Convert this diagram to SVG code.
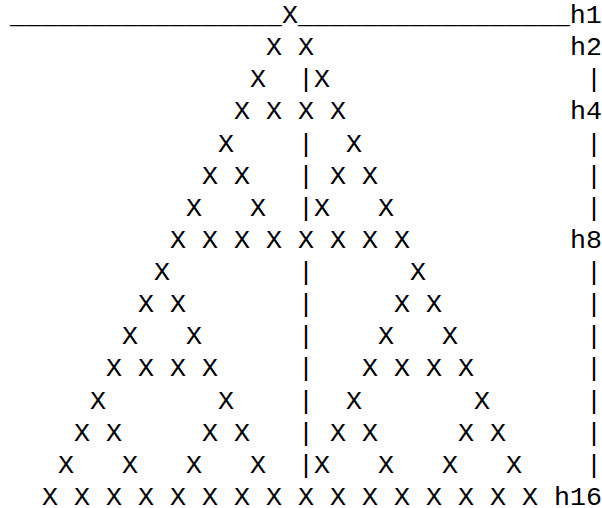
<svg xmlns="http://www.w3.org/2000/svg" width="602" height="508" viewBox="0 0 602 508">
<style>
text{font-family:"Liberation Mono","Courier New",monospace;font-size:26.667px;fill:#000;white-space:pre}
</style>
<rect width="602" height="508" fill="#fff"/>
<g id="art">
<text id="r1" y="23" xml:space="preserve"><tspan x="10">_________________X_________________h1</tspan></text>
<text id="r2" y="55.1" xml:space="preserve"><tspan x="266">X X</tspan><tspan x="570">h2</tspan></text>
<text id="r3" y="87.3" xml:space="preserve"><tspan x="250">X</tspan><tspan x="298">|X</tspan><tspan x="586">|</tspan></text>
<text id="r4" y="119.4" xml:space="preserve"><tspan x="234">X X X X</tspan><tspan x="570">h4</tspan></text>
<text id="r5" y="151.5" xml:space="preserve"><tspan x="218">X</tspan><tspan x="298">|</tspan><tspan x="346">X</tspan><tspan x="586">|</tspan></text>
<text id="r6" y="183.7" xml:space="preserve"><tspan x="202">X X</tspan><tspan x="298">|</tspan><tspan x="330">X X</tspan><tspan x="586">|</tspan></text>
<text id="r7" y="215.8" xml:space="preserve"><tspan x="186">X</tspan><tspan x="250">X</tspan><tspan x="298">|X</tspan><tspan x="378">X</tspan><tspan x="586">|</tspan></text>
<text id="r8" y="247.9" xml:space="preserve"><tspan x="170">X X X X X X X X</tspan><tspan x="570">h8</tspan></text>
<text id="r9" y="280" xml:space="preserve"><tspan x="154">X</tspan><tspan x="298">|</tspan><tspan x="410">X</tspan><tspan x="586">|</tspan></text>
<text id="r10" y="312.2" xml:space="preserve"><tspan x="138">X X</tspan><tspan x="298">|</tspan><tspan x="394">X X</tspan><tspan x="586">|</tspan></text>
<text id="r11" y="344.3" xml:space="preserve"><tspan x="122">X</tspan><tspan x="186">X</tspan><tspan x="298">|</tspan><tspan x="378">X</tspan><tspan x="442">X</tspan><tspan x="586">|</tspan></text>
<text id="r12" y="376.4" xml:space="preserve"><tspan x="106">X X X X</tspan><tspan x="298">|</tspan><tspan x="362">X X X X</tspan><tspan x="586">|</tspan></text>
<text id="r13" y="408.6" xml:space="preserve"><tspan x="90">X</tspan><tspan x="218">X</tspan><tspan x="298">|</tspan><tspan x="346">X</tspan><tspan x="474">X</tspan><tspan x="586">|</tspan></text>
<text id="r14" y="440.7" xml:space="preserve"><tspan x="74">X X</tspan><tspan x="202">X X</tspan><tspan x="298">|</tspan><tspan x="330">X X</tspan><tspan x="458">X X</tspan><tspan x="586">|</tspan></text>
<text id="r15" y="472.8" xml:space="preserve"><tspan x="58">X   X   X   X</tspan><tspan x="298">|X   X   X   X</tspan><tspan x="586">|</tspan></text>
<text id="r16" y="505" xml:space="preserve"><tspan x="42">X X X X X X X X X X X X X X X X</tspan><tspan x="554">h16</tspan></text>
</g>
</svg>
